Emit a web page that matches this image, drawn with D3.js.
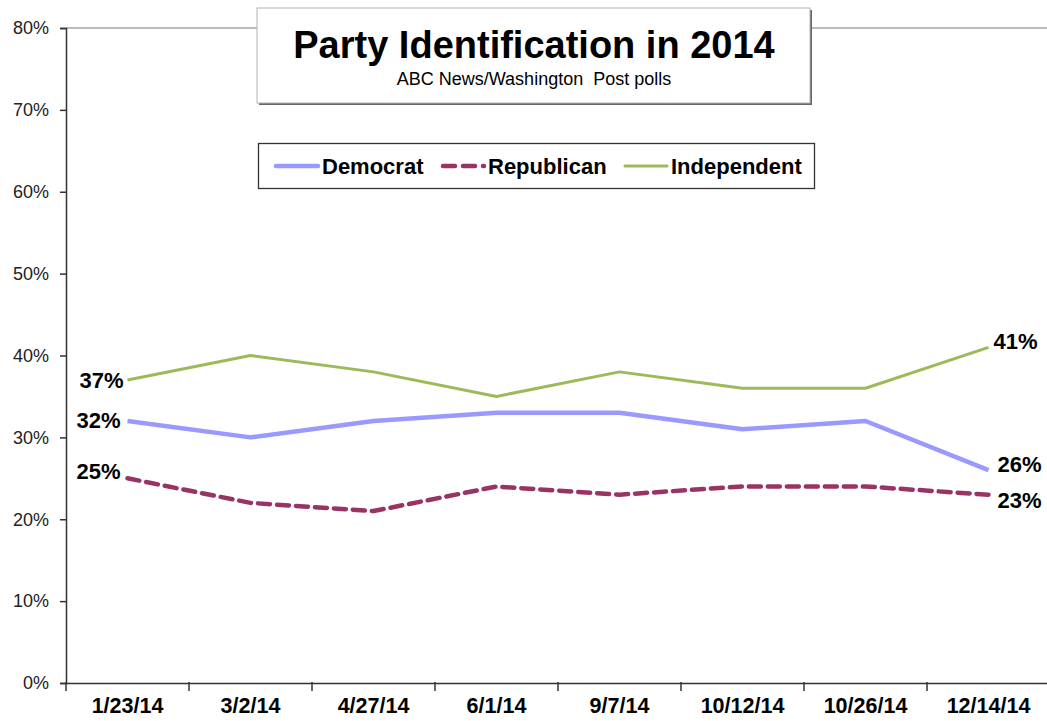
<!DOCTYPE html>
<html>
<head>
<meta charset="utf-8">
<script src="https://cdn.jsdelivr.net/npm/d3@7"></script>
<style>
  body { margin: 0; background: #fff; }
  text { font-family: Arial, "Liberation Sans", sans-serif; }
</style>
</head>
<body>
<div id="chart"></div>
<script>
var dates = ["1/23/14", "3/2/14", "4/27/14", "6/1/14", "9/7/14", "10/12/14", "10/26/14", "12/14/14"]
var democrat = [32, 30, 32, 33, 33, 31, 32, 26]
var republican = [25, 22, 21, 24, 23, 24, 24, 23]
var independent = [37, 40, 38, 35, 38, 36, 36, 41]
var yTicks = [0, 10, 20, 30, 40, 50, 60, 70, 80]

var width = 1047
var height = 721

var svg = d3.select("#chart")
  .append("svg")
    .attr("width", width)
    .attr("height", height)

var x = d3.scaleBand()
  .domain(dates)
  .range([66, 1050])

var y = d3.scaleLinear()
  .domain([0, 80])
  .range([683, 28])

// top border of plot area
svg.append("line")
  .attr("x1", 66).attr("x2", width)
  .attr("y1", y(80)).attr("y2", y(80))
  .attr("stroke", "#a6a6a6")
  .attr("stroke-width", 1.5)

// y axis
var yAxis = svg.append("g")
  .attr("transform", "translate(66,0)")
  .call(d3.axisLeft(y).tickValues(yTicks).tickSize(6).tickPadding(11).tickFormat(function(d){ return d + "%" }))
yAxis.select(".domain").attr("stroke", "#333").attr("stroke-width", 1.5)
yAxis.selectAll(".tick line").attr("stroke", "#333").attr("stroke-width", 1.5)
yAxis.selectAll(".tick text")
  .style("font-size", "18px")
  .attr("fill", "#222")

// x axis, ticks at band edges
var xAxis = svg.append("g")
  .attr("transform", "translate(0," + y(0) + ")")
  .call(d3.axisBottom(x).tickSize(0).tickPadding(15))
xAxis.select(".domain").attr("stroke", "#333").attr("stroke-width", 1.5)
xAxis.selectAll(".tick text")
  .style("font-size", "21.5px")
  .style("font-weight", "bold")
  .attr("fill", "#000")
xAxis.selectAll(".edge")
  .data(dates)
  .enter()
  .append("line")
    .attr("x1", function(d){ return x(d) })
    .attr("x2", function(d){ return x(d) })
    .attr("y1", -1)
    .attr("y2", 8)
    .attr("stroke", "#333")
    .attr("stroke-width", 1.5)

var px = function(d, i){ return x(dates[i]) + x.bandwidth() / 2 }
var line = d3.line()
  .x(px)
  .y(function(d){ return y(d) })

var series = [
  { name: "Democrat", values: democrat, color: "#9999ff", w: 4.5, dash: null },
  { name: "Republican", values: republican, color: "#993366", w: 4.5, dash: "12,7" },
  { name: "Independent", values: independent, color: "#9bbb59", w: 3, dash: null }
]

svg.append("g")
  .selectAll("path")
  .data(series)
  .enter()
  .append("path")
    .attr("d", function(d){ return line(d.values) })
    .attr("fill", "none")
    .attr("stroke", function(d){ return d.color })
    .attr("stroke-width", function(d){ return d.w })
    .attr("stroke-dasharray", function(d){ return d.dash })
    .attr("stroke-linejoin", "round")
    .attr("stroke-linecap", function(d){ return d.dash ? "round" : "butt" })

// end labels
var last = dates.length - 1
var endLabels = [
  { v: independent[0], i: 0, dx: -4, dy: 0, anchor: "end" },
  { v: democrat[0], i: 0, dx: -7, dy: -1, anchor: "end" },
  { v: republican[0], i: 0, dx: -7, dy: -7, anchor: "end" },
  { v: independent[last], i: last, dx: 5, dy: -6, anchor: "start" },
  { v: democrat[last], i: last, dx: 9, dy: -6, anchor: "start" },
  { v: republican[last], i: last, dx: 9, dy: 6, anchor: "start" }
]
svg.append("g")
  .selectAll("text")
  .data(endLabels)
  .enter()
  .append("text")
    .attr("x", function(d){ return x(dates[d.i]) + x.bandwidth() / 2 + d.dx })
    .attr("y", function(d){ return y(d.v) + d.dy })
    .attr("dy", "0.35em")
    .attr("text-anchor", function(d){ return d.anchor })
    .style("font-size", "22px")
    .style("font-weight", "bold")
    .text(function(d){ return d.v + "%" })

// title box
var tb = svg.append("g")
tb.append("rect")
  .attr("x", 259).attr("y", 10).attr("width", 553).attr("height", 95)
  .attr("fill", "#666")
tb.append("rect")
  .attr("x", 257).attr("y", 8).attr("width", 553).attr("height", 95)
  .attr("fill", "#fff")
  .attr("stroke", "#b3b3b3")
  .attr("stroke-width", 1)
tb.append("text")
  .attr("x", 534).attr("y", 58)
  .attr("text-anchor", "middle")
  .style("font-size", "38px")
  .style("font-weight", "bold")
  .text("Party Identification in 2014")
tb.append("text")
  .attr("x", 534).attr("y", 85)
  .attr("text-anchor", "middle")
  .style("font-size", "18px")
  .style("white-space", "pre")
  .text("ABC News/Washington  Post polls")

// legend
var lg = svg.append("g")
lg.append("rect")
  .attr("x", 258.5).attr("y", 143.5).attr("width", 556).attr("height", 45)
  .attr("fill", "#fff")
  .attr("stroke", "#333")
  .attr("stroke-width", 1.3)
var legendPos = [
  { x1: 276, x2: 318, tx: 322 },
  { x1: 443, x2: 484, tx: 488 },
  { x1: 625, x2: 667, tx: 671 }
]
var item = lg.selectAll(".item")
  .data(series)
  .enter()
  .append("g")
item.append("line")
  .attr("x1", function(d, i){ return legendPos[i].x1 })
  .attr("x2", function(d, i){ return legendPos[i].x2 })
  .attr("y1", 166).attr("y2", 166)
  .attr("stroke", function(d){ return d.color })
  .attr("stroke-width", function(d){ return d.w })
  .attr("stroke-dasharray", function(d){ return d.dash ? "12,8" : null })
  .attr("stroke-linecap", "round")
item.append("text")
  .attr("x", function(d, i){ return legendPos[i].tx })
  .attr("y", 166)
  .attr("dy", "0.35em")
  .style("font-size", "22px")
  .style("font-weight", "bold")
  .text(function(d){ return d.name })
</script>
</body>
</html>
